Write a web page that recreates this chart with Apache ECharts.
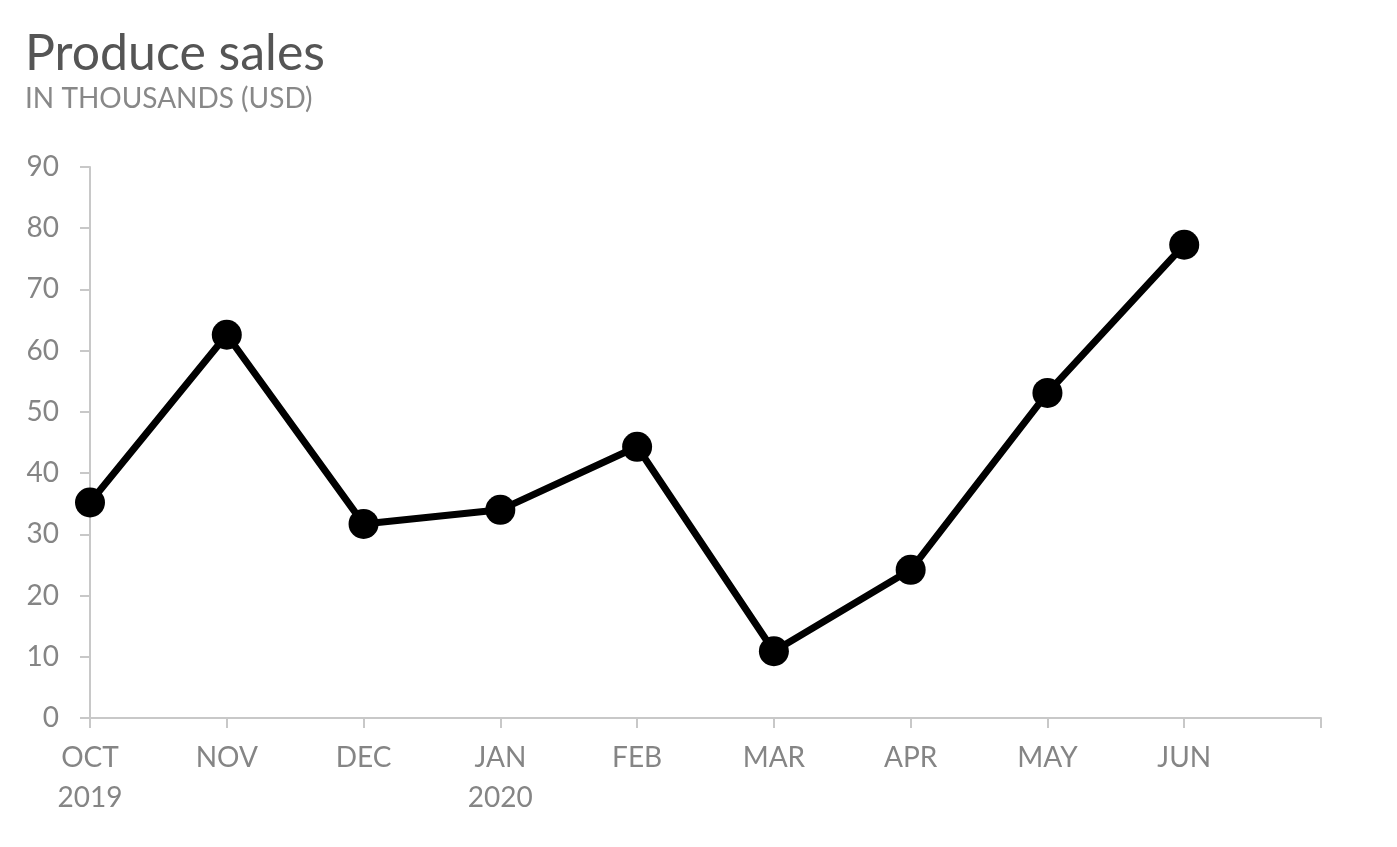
<!DOCTYPE html>
<html lang="en" style="height: 100%">
<head>
  <meta charset="utf-8">
  <title>Produce sales</title>
</head>
<body style="height: 100%; margin: 0; background: #fff;">
  <div id="container" style="height: 100%; width: 100%;"></div>

  <script src="https://cdn.jsdelivr.net/npm/echarts@6/dist/echarts.min.js"></script>
  <script type="text/javascript">
    const months = ['OCT\n2019', 'NOV', 'DEC', 'JAN\n2020', 'FEB', 'MAR', 'APR', 'MAY', 'JUN', ''];
    const sales = [35.2, 62.6, 31.7, 34, 44.3, 10.9, 24.2, 53.1, 77.3];

    const axisGray = '#c8c8c8';
    const labelGray = '#858585';
    const font = 'Lato, "Noto Sans", sans-serif';

    const chart = echarts.init(document.getElementById('container'));

    chart.setOption({
      animation: false,
      title: {
        text: 'Produce sales',
        subtext: 'IN THOUSANDS (USD)',
        left: 20,
        top: 24,
        itemGap: 6,
        textStyle: { fontFamily: font, fontSize: 50, fontWeight: 'normal', color: '#555' },
        subtextStyle: { fontFamily: font, fontSize: 28, color: '#888' }
      },
      grid: { left: 90, right: 76, top: 167, bottom: 129 },
      xAxis: {
        type: 'category',
        data: months,
        boundaryGap: false,
        axisLine: { lineStyle: { color: axisGray, width: 2 } },
        axisTick: { alignWithLabel: true, length: 10, lineStyle: { color: axisGray, width: 2 } },
        axisLabel: {
          color: labelGray, fontFamily: font, fontSize: 28, margin: 20,
          lineHeight: 40, interval: 0
        }
      },
      yAxis: {
        type: 'value',
        min: 0,
        max: 90,
        interval: 10,
        splitLine: { show: false },
        axisLine: { show: true, lineStyle: { color: axisGray, width: 2 } },
        axisTick: { show: true, length: 10, lineStyle: { color: axisGray, width: 2 } },
        axisLabel: { color: labelGray, fontFamily: font, fontSize: 28, margin: 31 }
      },
      series: [{
        type: 'line',
        data: sales,
        symbol: 'circle',
        symbolSize: 30,
        itemStyle: { color: '#000' },
        lineStyle: { color: '#000', width: 7 }
      }]
    });

    window.addEventListener('resize', chart.resize);
  </script>
</body>
</html>
